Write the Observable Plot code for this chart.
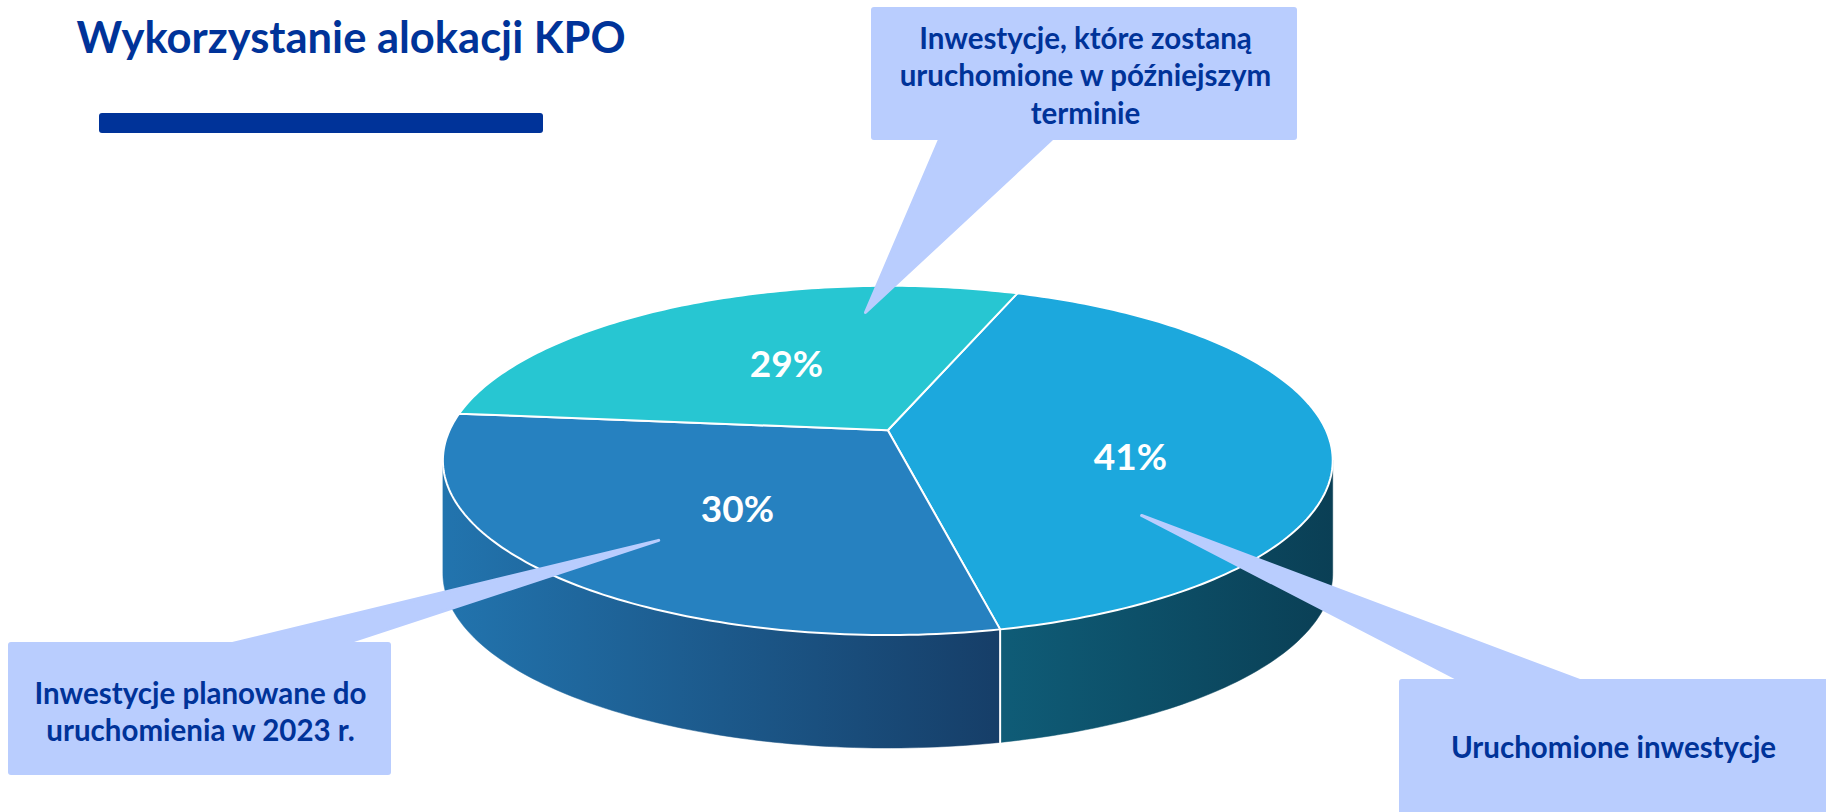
<!DOCTYPE html>
<html>
<head>
<meta charset="utf-8">
<script src="https://cdn.jsdelivr.net/npm/d3@7"></script>
<script src="https://cdn.jsdelivr.net/npm/@observablehq/plot@0.6"></script>
<style>
  html, body { margin: 0; padding: 0; background: #ffffff; }
  #chart svg { display: block; }
</style>
</head>
<body>
<div id="chart"></div>
<script>
// ---------- DATA ----------
const title = "Wykorzystanie alokacji KPO";
const categories = [
  "Uruchomione inwestycje",
  "Inwestycje planowane do uruchomienia w 2023 r.",
  "Inwestycje, które zostaną uruchomione w późniejszym terminie"
];
const shares = [41, 30, 29];
const pctLabels = ["41%", "30%", "29%"];
const calloutLines = [
  ["Uruchomione inwestycje"],
  ["Inwestycje planowane do", "uruchomienia w 2023 r."],
  ["Inwestycje, które zostaną", "uruchomione w późniejszym", "terminie"]
];

// ---------- STYLE ----------
const topColors = ["#1CA8DD", "#2681C0", "#27C6D2"];
const sideColors = [["#0F5C77", "#0A3F55"], ["#2274AE", "#163E68"], ["#1E9FA8", "#157A82"]];
const textBlue = "#003399";
const calloutFill = "#B9CDFE";
const FONT = "Lato, 'Open Sans', sans-serif";

// ---------- LAYOUT ----------
const W = 1826, H = 812;
const pie = {cx: 887.3, cy: 429.7, k: 438.2, m: 169.4, e: 0.173, depth: 113, start: 20.1};
const labelPolar = [{a: 106.8, r: 0.562}, {a: 216, r: 0.54}, {a: 328.8, r: 0.478}];
const tipPolar = [{a: 131, r: 0.706}, {a: 218.8, r: 0.75}, {a: 355.8, r: 0.792}];
const boxes = [
  {x1: 1399, x2: 1832, y1: 679, y2: 818},
  {x1: 8, x2: 391, y1: 642, y2: 775},
  {x1: 871, x2: 1297, y1: 7, y2: 140}
];
const pointerBase = [{xa: 1460, xb: 1579}, {xa: 232, xb: 344}, {xa: 939, xb: 1051}];
const textAnchorPos = [
  {x: 1613, y: [757]},
  {x: 200, y: [703, 740]},
  {x: 1085, y: [48, 85, 123]}
];

// perspective projection of a point on the unit disk (angle clockwise from far side)
function proj(deg, r, dy = 0) {
  const t = deg * Math.PI / 180;
  const u = r * Math.sin(t), v = -r * Math.cos(t);
  const w = 1 - pie.e * v;
  return {x: pie.cx + pie.k * u / w, y: pie.cy + pie.m * v / w + dy};
}
function arc(a, b, dy = 0) {
  const pts = [];
  const n = Math.max(2, Math.ceil(Math.abs(b - a)));
  for (let i = 0; i <= n; i++) pts.push(proj(a + (b - a) * i / n, 1, dy));
  return pts;
}

const total = d3.sum(shares);
let acc = pie.start;
const slices = shares.map((s, i) => {
  const a = acc, b = acc + s / total * 360;
  acc = b;
  return {i, a, b};
});

const visA = Math.acos(-pie.e) * 180 / Math.PI, visB = 360 - visA;

const marks = [];

// side walls
slices.forEach(s => {
  const a = Math.max(s.a, visA), b = Math.min(s.b, visB);
  if (b <= a) return;
  const top = arc(a, b), bot = arc(b, a, pie.depth);
  marks.push(Plot.line([...top, ...bot, top[0]], {
    x: "x", y: "y", fill: `url(#side${s.i})`, stroke: `url(#side${s.i})`, strokeWidth: 0.5
  }));
});
// white edge down the side at visible slice boundaries
slices.forEach(s => {
  if (s.a > visA && s.a < visB) {
    marks.push(Plot.line([proj(s.a, 1), proj(s.a, 1, pie.depth)], {x: "x", y: "y", stroke: "white", strokeWidth: 2}));
  }
});
// top faces
slices.forEach(s => {
  const pts = [{x: pie.cx, y: pie.cy}, ...arc(s.a, s.b), {x: pie.cx, y: pie.cy}];
  marks.push(Plot.line(pts, {
    x: "x", y: "y", fill: topColors[s.i], stroke: "white", strokeWidth: 2, strokeLinejoin: "round"
  }));
});
// percentage labels
marks.push(Plot.text(pctLabels.map((t, i) => ({t, ...proj(labelPolar[i].a, labelPolar[i].r)})), {
  x: "x", y: "y", text: "t", fill: "white", fontSize: 37, fontWeight: "bold", fontFamily: FONT
}));
// callout pointers
categories.forEach((c, i) => {
  const tip = proj(tipPolar[i].a, tipPolar[i].r);
  const by = i === 2 ? boxes[i].y2 - 1 : boxes[i].y1 + 1;
  marks.push(Plot.line([
    {x: pointerBase[i].xa, y: by}, {x: pointerBase[i].xb, y: by}, tip, {x: pointerBase[i].xa, y: by}
  ], {x: "x", y: "y", fill: calloutFill, stroke: calloutFill, strokeWidth: 3, strokeLinejoin: "round"}));
});
// callout boxes
marks.push(Plot.rect(boxes, {x1: "x1", x2: "x2", y1: "y1", y2: "y2", fill: calloutFill, rx: 3}));
// callout text
const textRows = [];
calloutLines.forEach((lines, i) => lines.forEach((t, j) => textRows.push({t, x: textAnchorPos[i].x, y: textAnchorPos[i].y[j]})));
marks.push(Plot.text(textRows, {
  x: "x", y: "y", text: "t", fill: textBlue, fontSize: 29.5, fontWeight: "bold", fontFamily: FONT,
  lineAnchor: "bottom", textAnchor: "middle"
}));
// title and underline bar
marks.push(Plot.text([{t: title, x: 76, y: 52}], {
  x: "x", y: "y", text: "t", fill: textBlue, fontSize: 43.5, fontWeight: "bold", fontFamily: FONT,
  lineAnchor: "bottom", textAnchor: "start"
}));
marks.push(Plot.rect([{x1: 99, x2: 543, y1: 113, y2: 133}], {x1: "x1", x2: "x2", y1: "y1", y2: "y2", fill: textBlue, rx: 3}));

const chart = Plot.plot({
  width: W, height: H, margin: 0,
  x: {domain: [0, W], range: [0, W], axis: null},
  y: {domain: [0, H], range: [0, H], axis: null},
  style: {background: "white", fontFamily: FONT, overflow: "hidden"},
  marks
});

// gradients for side walls
const xs = chart.scale("x");
const defs = d3.select(chart).insert("defs", ":first-child");
slices.forEach(s => {
  const a = Math.max(s.a, visA), b = Math.min(s.b, visB);
  const pa = proj(a, 1), pb = proj(b, 1);
  const g = defs.append("linearGradient").attr("id", `side${s.i}`)
    .attr("gradientUnits", "userSpaceOnUse")
    .attr("x1", xs.apply(Math.min(pa.x, pb.x))).attr("x2", xs.apply(Math.max(pa.x, pb.x)))
    .attr("y1", 0).attr("y2", 0);
  const [c1, c2] = sideColors[s.i];
  g.append("stop").attr("offset", "0%").attr("stop-color", c1);
  g.append("stop").attr("offset", "100%").attr("stop-color", c2);
});

document.getElementById("chart").appendChild(chart);
</script>
</body>
</html>
